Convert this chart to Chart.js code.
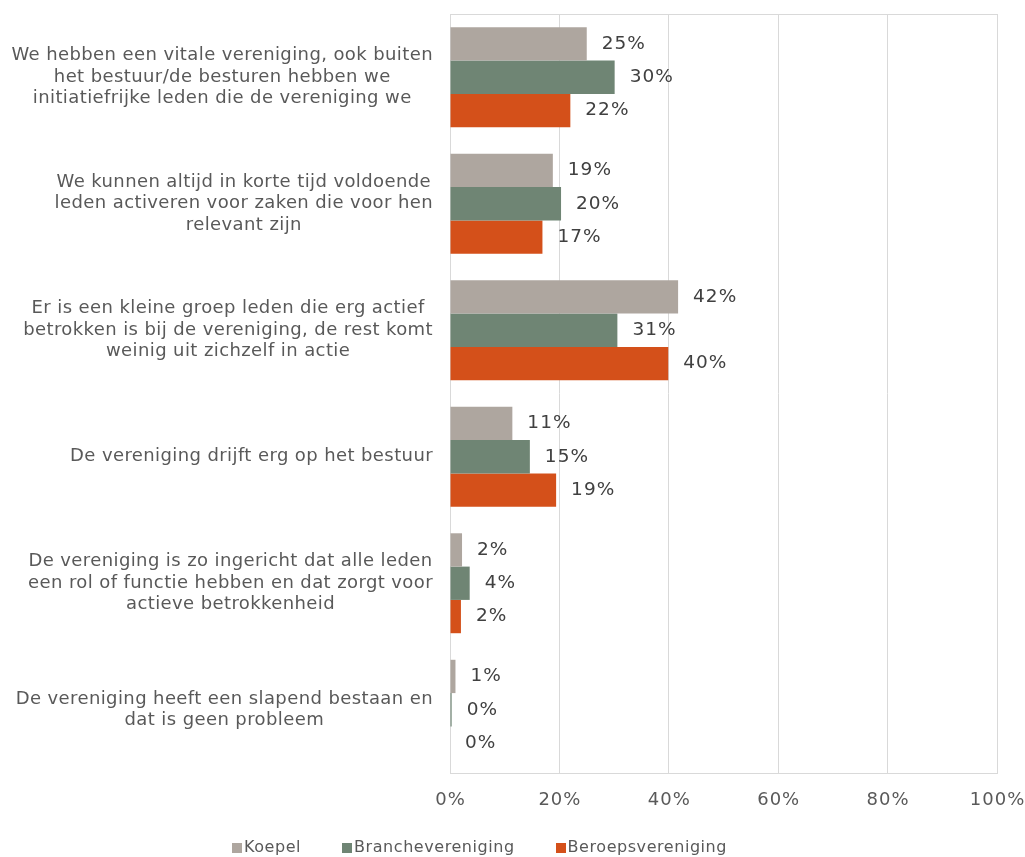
<!DOCTYPE html>
<html>
<head>
<meta charset="utf-8">
<script src="https://cdn.jsdelivr.net/npm/chart.js@4/dist/chart.umd.min.js"></script>
<style>
  html, body { margin: 0; padding: 0; background: #ffffff; }
  #wrap { width: 1025px; height: 857px; }
</style>
</head>
<body>
<div id="wrap"><canvas id="c" width="1025" height="857"></canvas></div>
<script>
const categories = [
  ['We hebben een vitale vereniging, ook buiten', 'het bestuur/de besturen hebben we', 'initiatiefrijke leden die de vereniging we'],
  ['We kunnen altijd in korte tijd voldoende', 'leden activeren voor zaken die voor hen', 'relevant zijn'],
  ['Er is een kleine groep leden die erg actief', 'betrokken is bij de vereniging, de rest komt', 'weinig uit zichzelf in actie'],
  ['De vereniging drijft erg op het bestuur'],
  ['De vereniging is zo ingericht dat alle leden', 'een rol of functie hebben en dat zorgt voor', 'actieve betrokkenheid'],
  ['De vereniging heeft een slapend bestaan en', 'dat is geen probleem']
];
const seriesNames = ['Koepel', 'Branchevereniging', 'Beroepsvereniging'];
const koepel = [25.0, 18.8, 41.7, 11.4, 2.2, 1.0];
const branche = [30.1, 20.3, 30.6, 14.6, 3.6, 0.3];
const beroeps = [22.0, 16.9, 39.9, 19.4, 2.0, 0.0];
const xTicks = [0, 20, 40, 60, 80, 100];
const colors = ['#AEA69F', '#6F8574', '#D4501A'];

const FONT = '"DejaVu Sans", Verdana, sans-serif';
const TEXT_COLOR = '#595959';

const catLabelPlugin = {
  id: 'catLabels',
  afterDraw(chart) {
    const ctx = chart.ctx;
    const y = chart.scales.y;
    const right = chart.chartArea.left - 17;
    const lh = 21.5;
    ctx.save();
    ctx.font = '18px ' + FONT;
    ctx.letterSpacing = '0.4px';
    ctx.fillStyle = TEXT_COLOR;
    ctx.textAlign = 'center';
    ctx.textBaseline = 'middle';
    categories.forEach((lines, i) => {
      const cy = y.getPixelForValue(i);
      let w = 0;
      lines.forEach(l => { w = Math.max(w, ctx.measureText(l).width); });
      const cx = right - w / 2;
      lines.forEach((l, j) => {
        ctx.fillText(l, cx, cy + (j - (lines.length - 1) / 2) * lh);
      });
    });
    ctx.restore();
  }
};

const valueLabelPlugin = {
  id: 'valueLabels',
  afterDatasetsDraw(chart) {
    const ctx = chart.ctx;
    ctx.save();
    ctx.font = '18.5px ' + FONT;
    ctx.letterSpacing = '1px';
    ctx.fillStyle = '#404040';
    ctx.textAlign = 'left';
    ctx.textBaseline = 'middle';
    chart.data.datasets.forEach((ds, di) => {
      const meta = chart.getDatasetMeta(di);
      meta.data.forEach((bar, i) => {
        ctx.fillText(Math.round(ds.data[i]) + '%', bar.x + 15, bar.y);
      });
    });
    ctx.restore();
  }
};

const xTickPlugin = {
  id: 'xTickLabels',
  afterDraw(chart) {
    const ctx = chart.ctx;
    const x = chart.scales.x;
    ctx.save();
    ctx.font = '18px ' + FONT;
    ctx.letterSpacing = '1px';
    ctx.fillStyle = TEXT_COLOR;
    ctx.textAlign = 'center';
    ctx.textBaseline = 'middle';
    xTicks.forEach(v => {
      ctx.fillText(v + '%', x.getPixelForValue(v) + 0.5, chart.chartArea.bottom + 27);
    });
    ctx.restore();
  }
};

const borderPlugin = {
  id: 'plotBorder',
  beforeDatasetsDraw(chart) {
    const a = chart.chartArea;
    const ctx = chart.ctx;
    ctx.save();
    ctx.strokeStyle = '#D9D9D9';
    ctx.lineWidth = 1;
    ctx.strokeRect(Math.round(a.left) + 0.5, Math.round(a.top) + 0.5, Math.round(a.right - a.left), Math.round(a.bottom - a.top));
    ctx.restore();
  }
};

const legendPlugin = {
  id: 'customLegend',
  afterDraw(chart) {
    const ctx = chart.ctx;
    ctx.save();
    ctx.font = '16px ' + FONT;
    ctx.letterSpacing = '0.55px';
    ctx.textBaseline = 'middle';
    ctx.textAlign = 'left';
    const box = 10, gapBoxText = 2, gapItems = 41;
    const widths = seriesNames.map(n => ctx.measureText(n).width);
    let total = 0;
    widths.forEach((w, i) => { total += box + gapBoxText + w + (i < widths.length - 1 ? gapItems : 0); });
    let x = 479.5 - total / 2;
    const cy = 848;
    seriesNames.forEach((n, i) => {
      ctx.fillStyle = colors[i];
      ctx.fillRect(Math.round(x), cy - box / 2, box, box);
      ctx.fillStyle = TEXT_COLOR;
      ctx.fillText(n, x + box + gapBoxText, cy);
      x += box + gapBoxText + widths[i] + gapItems;
    });
    ctx.restore();
  }
};

new Chart(document.getElementById('c'), {
  type: 'bar',
  data: {
    labels: categories,
    datasets: [
      { label: seriesNames[0], data: koepel, backgroundColor: colors[0] },
      { label: seriesNames[1], data: branche, backgroundColor: colors[1] },
      { label: seriesNames[2], data: beroeps, backgroundColor: colors[2] }
    ]
  },
  options: {
    indexAxis: 'y',
    responsive: false,
    animation: false,
    devicePixelRatio: 1,
    categoryPercentage: 0.79,
    barPercentage: 1.0,
    layout: { padding: { left: 0, top: 14, right: 28, bottom: 44 } },
    plugins: {
      legend: { display: false },
      tooltip: { enabled: false }
    },
    scales: {
      x: {
        min: 0, max: 100,
        afterBuildTicks(scale) { scale.ticks = xTicks.map(v => ({ value: v })); },
        afterFit(scale) { scale.height = 40; scale.paddingLeft = 0; scale.paddingRight = 0; },
        ticks: { display: false },
        grid: { color: '#D9D9D9', drawTicks: false },
        border: { display: false }
      },
      y: {
        afterFit(scale) { scale.width = 450; },
        ticks: { display: false },
        grid: { display: false },
        border: { display: false }
      }
    }
  },
  plugins: [borderPlugin, valueLabelPlugin, catLabelPlugin, xTickPlugin, legendPlugin]
});
</script>
</body>
</html>
